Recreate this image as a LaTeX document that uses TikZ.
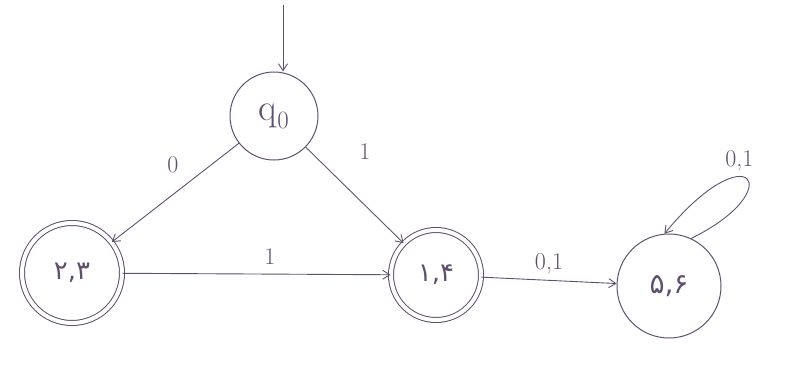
\documentclass[tikz,border=0pt]{standalone}
\usepackage{fontspec}
\newfontfamily\fafont[Script=Arabic]{DejaVu Sans}
\usetikzlibrary{arrows.meta}
\definecolor{ink}{RGB}{95,80,110}
\tikzset{
  state/.style={draw=ink, line width=1pt, circle, inner sep=0pt, text=ink},
  accept/.style={state, double=white, double distance=4pt},
  edge/.style={draw=ink, line width=0.9pt, -{Straight Barb[length=7pt,width=9pt]}},
  lbl/.style={text=ink, font=\fontsize{24}{24}\selectfont},
}
\begin{document}
\begin{tikzpicture}[x=1pt,y=-1pt]
\useasboundingbox (0,0) rectangle (795,376);
\node[state, minimum size=88pt, font=\fontsize{38}{38}\selectfont] (q0) at (274,116) {q$_0$};
\node[accept, minimum size=100pt, font=\fafont\fontsize{26}{26}\selectfont] (s23) at (72,273) {۲,۳};
\node[accept, minimum size=90pt, font=\fafont\fontsize{26}{26}\selectfont] (s14) at (436,275) {۱,۴};
\node[state, minimum size=104pt, font=\fafont\fontsize{28}{28}\selectfont] (s56) at (669,286) {۵,۶};
\coordinate (init) at (283,5);
\draw[edge] (init) -- (q0.north -| init);
\draw[edge] (q0) -- node[lbl, above left=6pt, pos=0.4] {0} (s23);
\draw[edge] (q0) -- node[lbl, right=45pt, pos=0.05] {1} (s14);
\draw[edge] (s23) -- node[lbl, above=6pt, pos=0.55] {1} (s14);
\draw[edge] (s14) -- node[lbl, above=2pt] {0,1} (s56);
\draw[edge] (s56.65) .. controls (790,190) and (750,130) .. (s56.95)
  node[lbl, pos=0.6, anchor=south, yshift=2pt] {0,1};
\end{tikzpicture}
\end{document}
